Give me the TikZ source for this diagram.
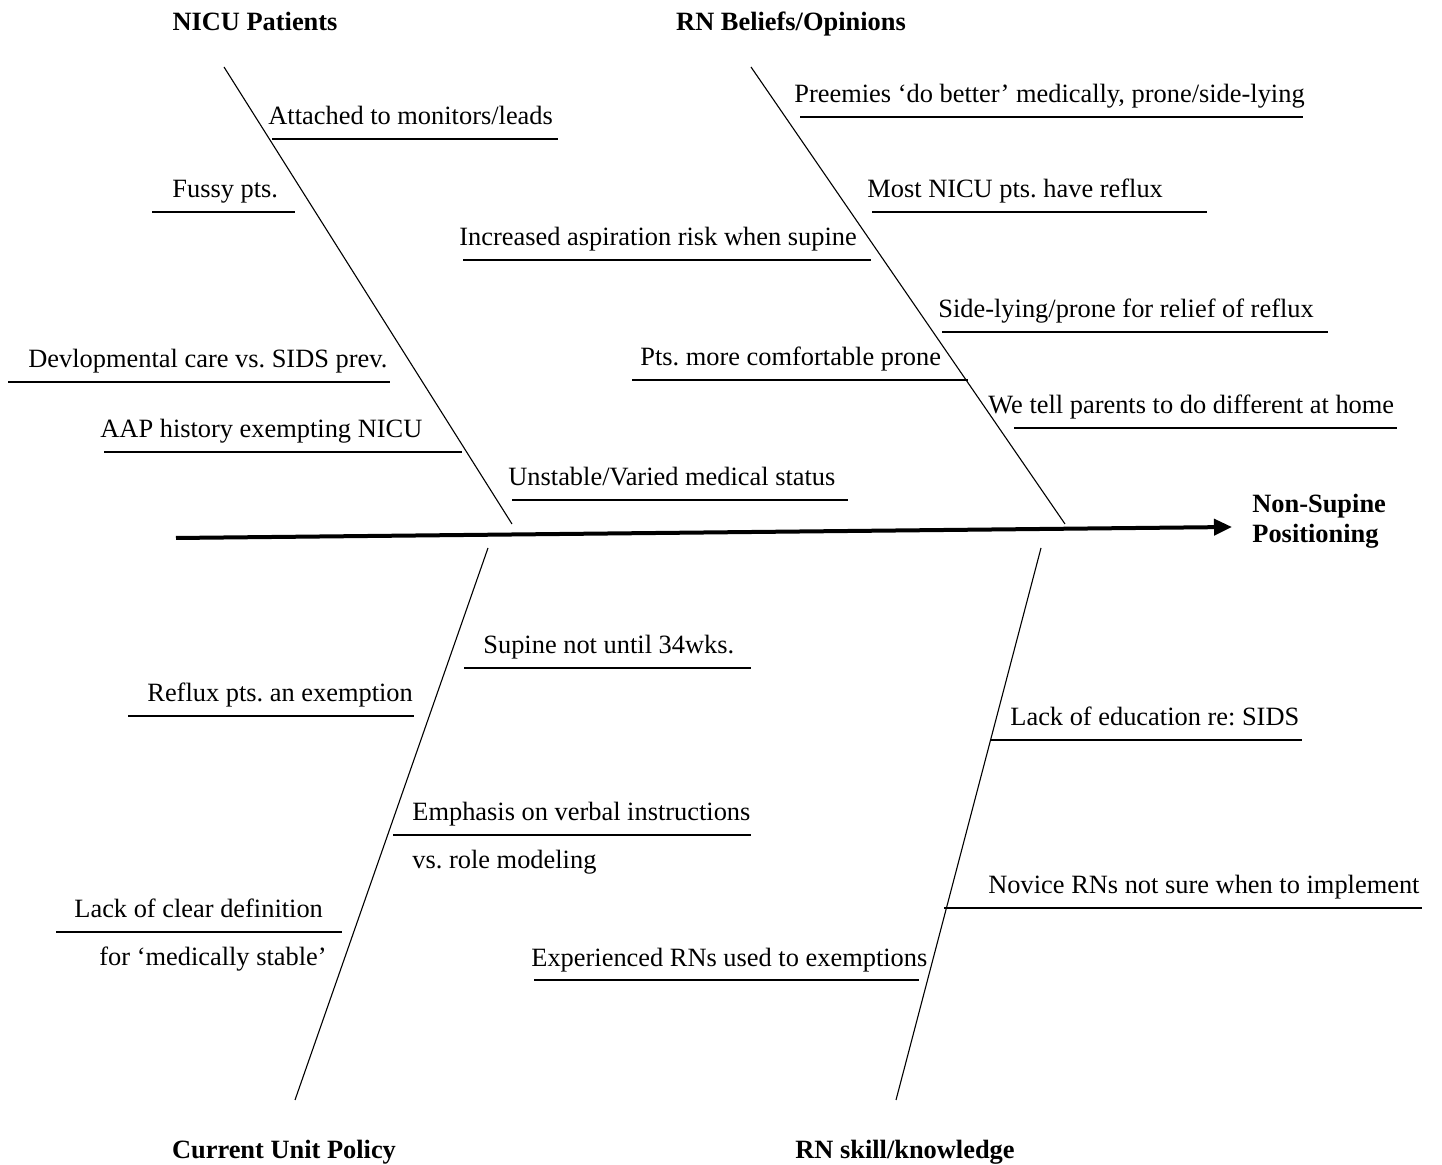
\documentclass[tikz,border=0pt]{standalone}
\usepackage{fontspec}
\setmainfont{Liberation Serif}
\usetikzlibrary{arrows.meta}
\begin{document}
\frenchspacing
\begin{tikzpicture}[x=0.5pt,y=-0.5pt,
  lbl/.style={anchor=base west,inner sep=0pt,font=\fontsize{13.2}{15}\selectfont},
  ttl/.style={anchor=base,inner sep=0pt,font=\fontsize{13.2}{15}\selectfont\bfseries},
  bone/.style={line width=0.55pt},
  rib/.style={line width=0.55pt},
  spine/.style={line width=2pt,-{Triangle[length=9pt,width=8pt]}}]
\useasboundingbox (0,0) rectangle (1442,1165);
% titles
\node[ttl] (t1) at (255,31) {NICU Patients};
\node[ttl] (t2) at (791,31) {RN Beliefs/Opinions};
\node[ttl] (t3) at (284,1158) {Current Unit Policy};
\node[ttl] (t4) at (905,1158) {RN skill/knowledge};
\node[anchor=base west,inner sep=0pt,align=left,font=\fontsize{13.2}{15}\selectfont\bfseries] (eff) at (1252,543) {Non-Supine\\Positioning};
% spine
\coordinate (s0) at (176,538);
\coordinate (s1) at (1232,527);
\draw[spine] (s0) -- (s1);
% bones
\coordinate (b1a) at (224,67);  \coordinate (b1b) at (512,524);
\coordinate (b2a) at (751,67);  \coordinate (b2b) at (1065,524);
\coordinate (b3a) at (488,548); \coordinate (b3b) at (295,1100);
\coordinate (b4a) at (1041,548);\coordinate (b4b) at (896,1100);
\draw[bone] (b1a) -- (b1b);
\draw[bone] (b2a) -- (b2b);
\draw[bone] (b3a) -- (b3b);
\draw[bone] (b4a) -- (b4b);
% ribs: top-left
\node[lbl] (l1) at (268,125) {Attached to monitors/leads};
\coordinate (r1a) at (272,139); \coordinate (r1b) at (558,139);
\node[lbl] (l2) at (172,198) {Fussy pts.};
\coordinate (r2a) at (152,212); \coordinate (r2b) at (295,212);
\node[lbl] (l3) at (28,368) {Devlopmental care vs. SIDS prev.};
\coordinate (r3a) at (8,382); \coordinate (r3b) at (390,382);
\node[lbl] (l4) at (100,438) {AAP history exempting NICU};
\coordinate (r4a) at (104,452); \coordinate (r4b) at (462,452);
\node[lbl] (l5) at (508,486) {Unstable/Varied medical status};
\coordinate (r5a) at (512,500); \coordinate (r5b) at (848,500);
% ribs: top-right
\node[lbl] (l6) at (459,246) {Increased aspiration risk when supine};
\coordinate (r6a) at (463,260); \coordinate (r6b) at (871,260);
\node[lbl] (l7) at (640,366) {Pts. more comfortable prone};
\coordinate (r7a) at (632,380); \coordinate (r7b) at (968,380);
\node[lbl] (l8) at (794,103) {Preemies ‘do better’ medically, prone/side-lying};
\coordinate (r8a) at (800,117); \coordinate (r8b) at (1303,117);
\node[lbl] (l9) at (867,198) {Most NICU pts. have reflux};
\coordinate (r9a) at (872,212); \coordinate (r9b) at (1207,212);
\node[lbl] (l10) at (938,318) {Side-lying/prone for relief of reflux};
\coordinate (r10a) at (942,332); \coordinate (r10b) at (1328,332);
\node[lbl] (l11) at (988,414) {We tell parents to do different at home};
\coordinate (r11a) at (1014,428); \coordinate (r11b) at (1397,428);
% ribs: bottom-left
\node[lbl] (l12) at (483,654) {Supine not until 34wks.};
\coordinate (r12a) at (464,668); \coordinate (r12b) at (751,668);
\node[lbl] (l13) at (147,702) {Reflux pts. an exemption};
\coordinate (r13a) at (128,716); \coordinate (r13b) at (414,716);
\node[lbl] (l14) at (412,821) {Emphasis on verbal instructions};
\node[lbl] (l14b) at (412,869) {vs. role modeling};
\coordinate (r14a) at (393,835); \coordinate (r14b) at (751,835);
\node[lbl] (l15) at (74,918) {Lack of clear definition};
\node[lbl] (l15b) at (99,965) {for ‘medically stable’};
\coordinate (r15a) at (56,932); \coordinate (r15b) at (342,932);
% ribs: bottom-right
\node[lbl] (l16) at (1010,726) {Lack of education re: SIDS};
\coordinate (r16a) at (991,740); \coordinate (r16b) at (1302,740);
\node[lbl] (l17) at (988,894) {Novice RNs not sure when to implement};
\coordinate (r17a) at (944,908); \coordinate (r17b) at (1422,908);
\node[lbl] (l18) at (531,966) {Experienced RNs used to exemptions};
\coordinate (r18a) at (534,980); \coordinate (r18b) at (919,980);
\foreach \i in {1,...,18} {\draw[rib] (r\i a) -- (r\i b);}
\end{tikzpicture}
\end{document}
